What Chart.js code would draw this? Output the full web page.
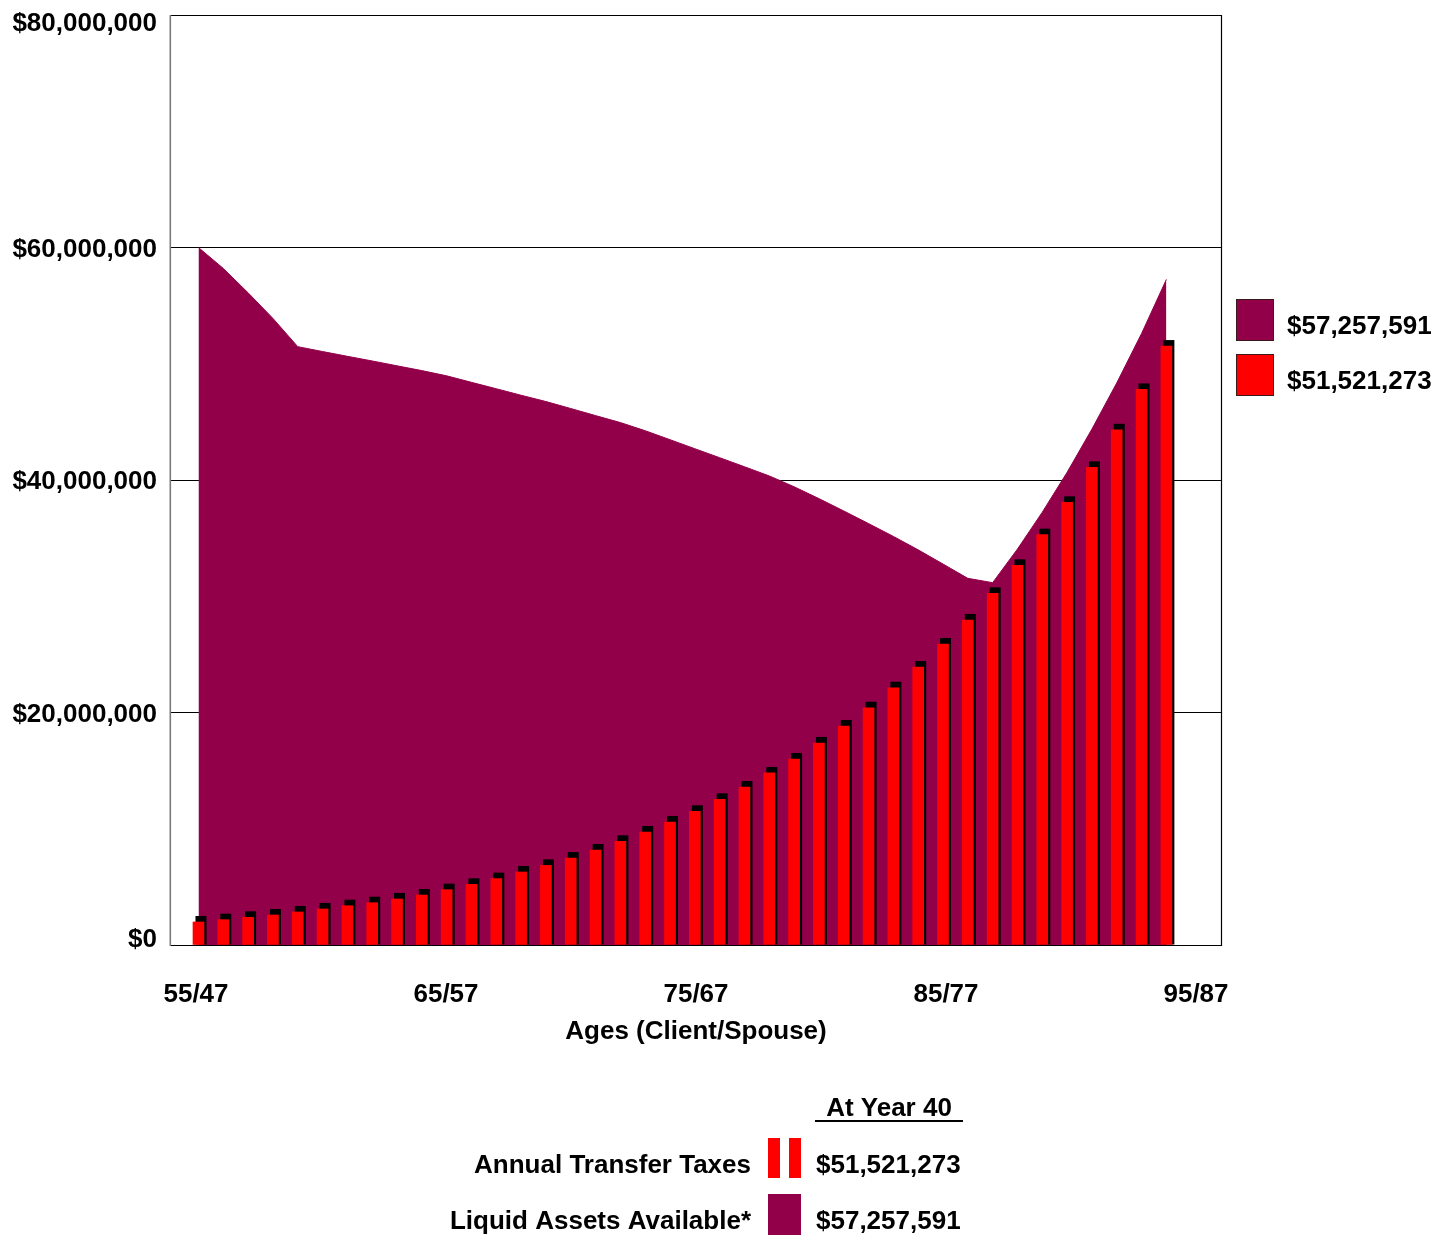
<!DOCTYPE html>
<html>
<head>
<meta charset="utf-8">
<script src="https://cdn.jsdelivr.net/npm/chart.js@4.4.1/dist/chart.umd.min.js"></script>
<style>
  html, body { margin: 0; padding: 0; background: #ffffff; }
  #wrap { position: relative; width: 1450px; height: 1235px; }
</style>
</head>
<body>
<div id="wrap"><canvas id="chart" width="1450" height="1235"></canvas></div>
<script>
// Plan years 1..40
const years = [1, 2, 3, 4, 5, 6, 7, 8, 9, 10, 11, 12, 13, 14, 15, 16, 17, 18, 19, 20,
               21, 22, 23, 24, 25, 26, 27, 28, 29, 30, 31, 32, 33, 34, 35, 36, 37, 38, 39, 40];

// Annual transfer taxes (bars)
const transferTaxes = [
  1980000, 2180000, 2380000, 2580000, 2840000, 3100000, 3380000, 3640000, 3960000, 4300000,
  4760000, 5220000, 5710000, 6280000, 6850000, 7480000, 8170000, 8920000, 9720000, 10580000,
  11500000, 12530000, 13590000, 14800000, 16000000, 17380000, 18840000, 20410000, 22130000, 23910000,
  25890000, 27960000, 30250000, 32660000, 35300000, 38080000, 41090000, 44320000, 47790000, 51521273
];

// Liquid assets available (area)
const liquidAssets = [
  60000000, 58200000, 56100000, 53900000, 51470000, 51050000, 50640000, 50240000, 49820000, 49410000,
  48960000, 48400000, 47850000, 47290000, 46750000, 46150000, 45540000, 44940000, 44240000, 43470000,
  42690000, 41920000, 41140000, 40350000, 39420000, 38400000, 37340000, 36250000, 35150000, 33990000,
  32770000, 31540000, 31170000, 34060000, 37230000, 40660000, 44380000, 48350000, 52600000, 57257591
];

const yTickValues = [0, 20000000, 40000000, 60000000, 80000000];
const yTickLabels = ['$0', '$20,000,000', '$40,000,000', '$60,000,000', '$80,000,000'];
const xTickAges = [55, 65, 75, 85, 95];
const xTickLabels = ['55/47', '65/57', '75/67', '85/77', '95/87'];
const seriesNames = ['Annual Transfer Taxes', 'Liquid Assets Available*'];
const summaryHeading = 'At Year 40';
const axisTitle = 'Ages (Client/Spouse)';

const PURPLE = '#93004A';
const RED = '#FF0000';
const FAMILY = '"Liberation Sans", Arial, Helvetica, sans-serif';
const FONT = 'bold 26px ' + FAMILY;

function money(v) {
  return '$' + String(Math.round(v)).replace(/\B(?=(\d{3})+(?!\d))/g, ',');
}

// Dark offset block behind each tax bar (top and right edge)
const barShadow = {
  id: 'barShadow',
  beforeDatasetDraw(chart, args) {
    if (args.index !== 1) return;
    const ctx = chart.ctx;
    ctx.save();
    ctx.fillStyle = '#000000';
    args.meta.data.forEach(el => {
      const p = el.getProps(['x', 'y', 'base', 'width'], true);
      ctx.fillRect(p.x - p.width / 2 + 2.5, p.y - 6, p.width, p.base - p.y + 6);
    });
    ctx.restore();
  }
};

// Plot frame, value-axis labels, side legend and year-40 summary
const decorations = {
  id: 'decorations',
  afterDatasetsDraw(chart) {
    const ctx = chart.ctx;
    const a = chart.chartArea;
    ctx.save();
    ctx.strokeStyle = '#000000';
    ctx.lineWidth = 1.2;
    ctx.beginPath();
    ctx.moveTo(a.left, a.top + 0.5);
    ctx.lineTo(a.right - 0.5, a.top + 0.5);
    ctx.lineTo(a.right - 0.5, a.bottom + 0.5);
    ctx.lineTo(a.left, a.bottom + 0.5);
    ctx.stroke();
    ctx.strokeStyle = '#7a7a7a';
    ctx.lineWidth = 1.6;
    ctx.beginPath();
    ctx.moveTo(a.left + 0.3, a.top);
    ctx.lineTo(a.left + 0.3, a.bottom + 1);
    ctx.stroke();
    ctx.restore();
  },
  afterDraw(chart) {
    const ctx = chart.ctx;
    const a = chart.chartArea;
    const ys = chart.scales.y;
    ctx.save();
    ctx.fillStyle = '#000000';
    ctx.font = FONT;
    ctx.textAlign = 'right';
    ctx.textBaseline = 'middle';
    yTickValues.forEach((v, i) => {
      let py = ys.getPixelForValue(v) + 2;
      py = Math.min(Math.max(py, a.top + 9), a.bottom - 5);
      ctx.fillText(yTickLabels[i], a.left - 13, py);
    });

    // side legend with the final values
    const last = years.length - 1;
    const legendRows = [
      { color: PURPLE, value: liquidAssets[last], top: 299 },
      { color: RED, value: transferTaxes[last], top: 354 }
    ];
    legendRows.forEach(r => {
      ctx.fillStyle = r.color;
      ctx.fillRect(1236, r.top, 37, 41);
      ctx.strokeStyle = '#3a1a1a';
      ctx.lineWidth = 1;
      ctx.strokeRect(1236.5, r.top + 0.5, 37, 41);
      ctx.fillStyle = '#000000';
      ctx.textAlign = 'left';
      ctx.fillText(money(r.value), 1287, r.top + 28);
    });

    // year-40 summary table
    ctx.textAlign = 'center';
    ctx.fillText(summaryHeading, 889, 1109);
    ctx.strokeStyle = '#000000';
    ctx.lineWidth = 2;
    ctx.beginPath();
    ctx.moveTo(815, 1121);
    ctx.lineTo(963, 1121);
    ctx.stroke();

    ctx.textAlign = 'right';
    ctx.fillText(seriesNames[0], 751, 1166);
    ctx.fillText(seriesNames[1], 751, 1222);
    ctx.textAlign = 'left';
    ctx.fillText(money(transferTaxes[last]), 816, 1166);
    ctx.fillText(money(liquidAssets[last]), 816, 1222);

    ctx.fillStyle = RED;
    ctx.fillRect(768, 1138, 12, 40);
    ctx.fillRect(789, 1138, 12, 40);
    ctx.fillStyle = PURPLE;
    ctx.fillRect(768, 1194, 33, 41);
    ctx.restore();
  }
};

const tickFont = { family: FAMILY, size: 26, weight: 'bold' };

new Chart(document.getElementById('chart'), {
  data: {
    datasets: [
      {
        type: 'line',
        label: seriesNames[1],
        data: years.map((yr, i) => ({ x: yr, y: liquidAssets[i] })),
        xAxisID: 'x',
        yAxisID: 'y',
        fill: 'origin',
        backgroundColor: PURPLE,
        borderColor: PURPLE,
        borderWidth: 1,
        pointRadius: 0,
        tension: 0,
        order: 2
      },
      {
        type: 'bar',
        label: seriesNames[0],
        data: years.map((yr, i) => ({ x: yr, y: transferTaxes[i] })),
        xAxisID: 'x',
        yAxisID: 'y',
        backgroundColor: RED,
        borderWidth: 0,
        barThickness: 11,
        order: 1
      }
    ]
  },
  options: {
    responsive: false,
    devicePixelRatio: 1,
    animation: false,
    events: [],
    layout: { padding: { top: 15, right: 228, bottom: 180, left: 0 } },
    plugins: {
      legend: { display: false },
      tooltip: { enabled: false }
    },
    scales: {
      x: {
        type: 'linear',
        display: false,
        offset: false,
        min: -0.148,
        max: 42.241
      },
      x2: {
        type: 'linear',
        position: 'bottom',
        offset: false,
        min: 53.96,
        max: 96.04,
        grid: { display: false },
        border: { display: false },
        afterBuildTicks: s => { s.ticks = xTickAges.map(v => ({ value: v })); },
        ticks: {
          padding: 26,
          color: '#000000',
          font: tickFont,
          maxRotation: 0,
          autoSkip: false,
          callback: v => xTickLabels[xTickAges.indexOf(v)]
        },
        title: {
          display: true,
          text: axisTitle,
          color: '#000000',
          font: tickFont,
          padding: { top: 0, bottom: 8 }
        },
        afterFit: s => { s.height = 110; }
      },
      y: {
        type: 'linear',
        position: 'left',
        min: 0,
        max: 80000000,
        afterBuildTicks: s => { s.ticks = yTickValues.map(v => ({ value: v })); },
        ticks: { display: false },
        border: { display: false },
        grid: {
          drawTicks: false,
          lineWidth: 1,
          color: c => (c.tick && c.tick.value > 0 && c.tick.value < 80000000) ? '#000000' : 'rgba(0,0,0,0)'
        },
        afterFit: s => { s.width = 170; }
      }
    }
  },
  plugins: [barShadow, decorations]
});
</script>
</body>
</html>
